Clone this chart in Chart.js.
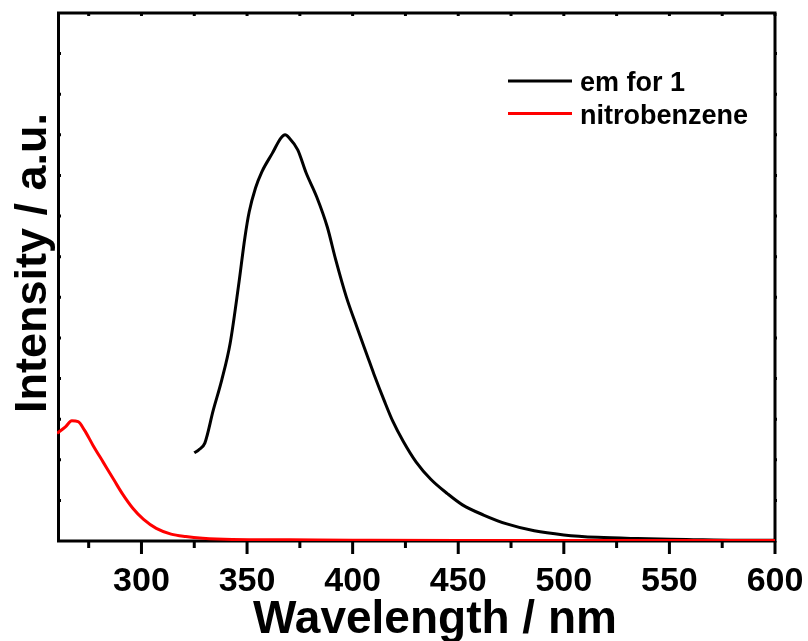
<!DOCTYPE html>
<html>
<head>
<meta charset="utf-8">
<title>Emission spectrum</title>
<script src="https://cdn.jsdelivr.net/npm/chart.js@4/dist/chart.umd.min.js"></script>
<style>
  html, body { margin: 0; padding: 0; background: #fff; }
  #wrap { width: 808px; height: 641px; }
</style>
</head>
<body>
<div id="wrap"><canvas id="myChart" width="808" height="641"></canvas></div>
<script>
// emission of compound 1
let emWavelength = [325, 327, 330, 334, 338, 342, 346, 349, 351, 354, 357, 362, 366, 368, 370, 374, 378, 383, 388, 392, 397, 402, 407, 410, 415, 419, 424, 430, 437, 445, 452, 462, 473, 486, 500, 516, 535, 558, 582, 600];
let emIntensity = [217, 224, 241, 322, 396, 487, 630, 748, 810, 869, 909, 955, 992, 1000, 992, 963, 906, 847, 773, 692, 601, 527, 455, 412, 345, 295, 245, 195, 152, 116, 89, 64, 42, 25, 15, 9, 6, 4, 2, 2];

// nitrobenzene absorption
let nbWavelength = [260, 264, 267, 270, 273, 277, 282, 287, 291, 296, 301, 307, 314, 321, 329, 343, 370, 400, 450, 500, 550, 600];
let nbIntensity = [265, 281, 296, 294, 273, 236, 193, 150, 116, 80, 53, 31, 17, 11, 7, 4, 3, 2, 1, 1, 1, 1];

let legendNames = ['em for 1', 'nitrobenzene'];
let lineColors = ['#000000', '#ff0000'];

let xMin = 260;
let xMax = 600;
let yMax = 1300;

const fontName = '"Liberation Sans", Arial, sans-serif';

function toPoints(xs, ys) {
  let points = [];
  for (let i = 0; i < xs.length; i++) {
    points.push({ x: xs[i], y: ys[i] });
  }
  return points;
}

// frame, ticks, axis titles and legend
const framePlugin = {
  id: 'frame',
  beforeDatasetsDraw(chart) {
    const ctx = chart.ctx;
    const a = chart.chartArea;
    ctx.save();
    ctx.strokeStyle = '#000';
    ctx.lineWidth = 3;
    ctx.strokeRect(a.left + 1.5, a.top, a.right - a.left - 1.5, a.bottom - a.top);
    ctx.restore();
  },
  afterDraw(chart) {
    const ctx = chart.ctx;
    const a = chart.chartArea;
    const xs = chart.scales.x;
    const ys = chart.scales.y;
    ctx.save();
    ctx.strokeStyle = '#000';
    ctx.lineWidth = 3;
    ctx.beginPath();
    for (let v = 275; v <= xMax; v += 25) {
      const px = xs.getPixelForValue(v);
      const len = v % 50 === 0 ? 13 : 7;
      ctx.moveTo(px, a.bottom);
      ctx.lineTo(px, a.bottom + len);
      ctx.moveTo(px, a.top);
      ctx.lineTo(px, a.top + 3);
    }
    for (let v = 100; v < yMax; v += 100) {
      const py = ys.getPixelForValue(v);
      ctx.moveTo(a.left, py);
      ctx.lineTo(a.left + 4, py);
      ctx.moveTo(a.right - 1, py);
      ctx.lineTo(a.right + 2, py);
    }
    ctx.stroke();

    // axis titles
    ctx.fillStyle = '#000';
    ctx.font = 'bold 46px ' + fontName;
    ctx.textAlign = 'center';
    ctx.textBaseline = 'alphabetic';
    ctx.fillText('Wavelength / nm', 435, 633);

    ctx.save();
    ctx.translate(46, 263);
    ctx.rotate(-Math.PI / 2);
    ctx.font = 'bold 45px ' + fontName;
    ctx.fillText('Intensity / a.u.', 0, 0);
    ctx.restore();

    // legend
    ctx.font = 'bold 27px ' + fontName;
    ctx.textAlign = 'left';
    for (let i = 0; i < legendNames.length; i++) {
      const ly = 81 + i * 32.5;
      ctx.strokeStyle = lineColors[i];
      ctx.lineWidth = 3;
      ctx.beginPath();
      ctx.moveTo(508, ly);
      ctx.lineTo(572, ly);
      ctx.stroke();
      ctx.fillText(legendNames[i], 580, ly + 10);
    }
    ctx.restore();
  }
};

function renderChart() {
  const ctx = document.getElementById('myChart');
  new Chart(ctx, {
    type: 'line',
    data: {
      datasets: [
        {
          label: legendNames[1],
          data: toPoints(nbWavelength, nbIntensity),
          borderColor: lineColors[1],
          borderWidth: 3,
          pointRadius: 0,
          cubicInterpolationMode: 'monotone',
          order: 0
        },
        {
          label: legendNames[0],
          data: toPoints(emWavelength, emIntensity),
          borderColor: lineColors[0],
          borderWidth: 3,
          pointRadius: 0,
          cubicInterpolationMode: 'monotone',
          order: 1
        }
      ]
    },
    options: {
      responsive: false,
      animation: false,
      layout: { padding: { top: 13, right: 33, left: 0, bottom: 0 } },
      plugins: {
        legend: { display: false },
        tooltip: { enabled: false }
      },
      scales: {
        x: {
          type: 'linear',
          min: xMin,
          max: xMax,
          border: { display: false },
          grid: { display: false, drawTicks: false },
          ticks: {
            stepSize: 25,
            autoSkip: false,
            maxRotation: 0,
            padding: 20,
            color: '#000',
            font: { family: fontName, size: 34, weight: 'bold' },
            callback: (v) => v % 50 === 0 ? v : ''
          },
          afterFit: (scale) => {
            scale.height = 100;
            scale.paddingLeft = 0;
            scale.paddingRight = 0;
          }
        },
        y: {
          min: 0,
          max: yMax,
          border: { display: false },
          grid: { display: false },
          ticks: { display: false },
          afterFit: (scale) => { scale.width = 57; }
        }
      }
    },
    plugins: [framePlugin]
  });
}

renderChart();
</script>
</body>
</html>
